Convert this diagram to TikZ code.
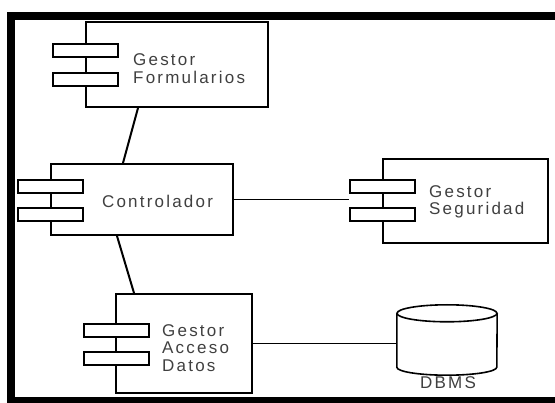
\documentclass[tikz,border=0pt]{standalone}
\usepackage{fontspec}
\setmainfont{Liberation Sans}[LetterSpace=13]
\begin{document}
\begin{tikzpicture}[x=1pt,y=1pt,
  box/.style={draw=black, line width=2pt, fill=white, rectangle, inner sep=0pt},
  tab/.style={draw=black, line width=2pt, fill=white, rectangle, inner sep=0pt, minimum width=65pt, minimum height=13pt},
  lbl/.style={text=black!75, font=\fontsize{17}{17.5}\selectfont, inner sep=0pt, align=left},
  conn/.style={draw=black, line width=2pt},
  hconn/.style={draw=black, line width=1.6pt}]
\useasboundingbox (0,0) rectangle (555,-403);
\clip (0,0) rectangle (555,-403);
\fill[white] (0,0) rectangle (555,-403);
\draw[line width=8pt] (11,-16) rectangle (570,-401);
% Gestor Formularios
\node[box, minimum width=182pt, minimum height=85pt] (form) at (177,-64.5) {};
\node[tab] (formt1) at (85.5,-50.5) {};
\node[tab] (formt2) at (85.5,-79.5) {};
\node[lbl, anchor=west] (forml) at (133,-68.5) {Gestor\\Formularios};
% Controlador
\node[box, minimum width=182pt, minimum height=71pt] (ctrl) at (142,-199.5) {};
\node[tab] (ctrlt1) at (50.5,-186.5) {};
\node[tab] (ctrlt2) at (50.5,-214.5) {};
\node[lbl] (ctrll) at (157.5,-201) {Controlador};
% Gestor Seguridad
\node[box, minimum width=165pt, minimum height=84pt] (seg) at (465.5,-201) {};
\node[tab] (segt1) at (382,-186.5) {};
\node[tab] (segt2) at (382,-215) {};
\node[lbl, anchor=west] (segl) at (429,-202) {Gestor\\Seguridad};
% Gestor Acceso Datos
\node[box, minimum width=136pt, minimum height=99pt] (acc) at (184,-343.5) {};
\node[tab] (acct1) at (116,-330.5) {};
\node[tab] (acct2) at (116,-359) {};
\node[lbl, anchor=west] (accl) at (162,-348) {Gestor\\Acceso\\Datos};
% DBMS
\node[rectangle, minimum width=100pt, minimum height=70pt, inner sep=0pt] (dbms) at (447,-340) {};
\fill[white] (dbms.north west) ++(0,-8.5) -- ([yshift=8]dbms.south west) arc[start angle=180,end angle=360,x radius=50,y radius=8] -- ([yshift=-8.5]dbms.north east) arc[start angle=0,end angle=180,x radius=50,y radius=8.5] -- cycle;
\draw[line width=1.6pt] ([yshift=-8.5]dbms.north west) -- ([yshift=8]dbms.south west) arc[start angle=180,end angle=360,x radius=50,y radius=8] -- ([yshift=-8.5]dbms.north east);
\draw[line width=1.6pt] ([yshift=-8.5]dbms.north) ellipse[x radius=50, y radius=8.5];
\node[lbl, anchor=base] (dbmsl) at (448,-389) {DBMS};
% connectors
\coordinate (segin) at (segt1.west |- ctrl.east);
\draw[conn] ([xshift=-39pt]form.south) -- ([xshift=-19pt]ctrl.north);
\draw[conn] ([xshift=-25pt]ctrl.south) -- ([xshift=-50pt]acc.north);
\draw[hconn] (ctrl.east) -- (segin);
\draw[hconn] (acc.east) -- (acc.east -| dbms.west);
\end{tikzpicture}
\end{document}
